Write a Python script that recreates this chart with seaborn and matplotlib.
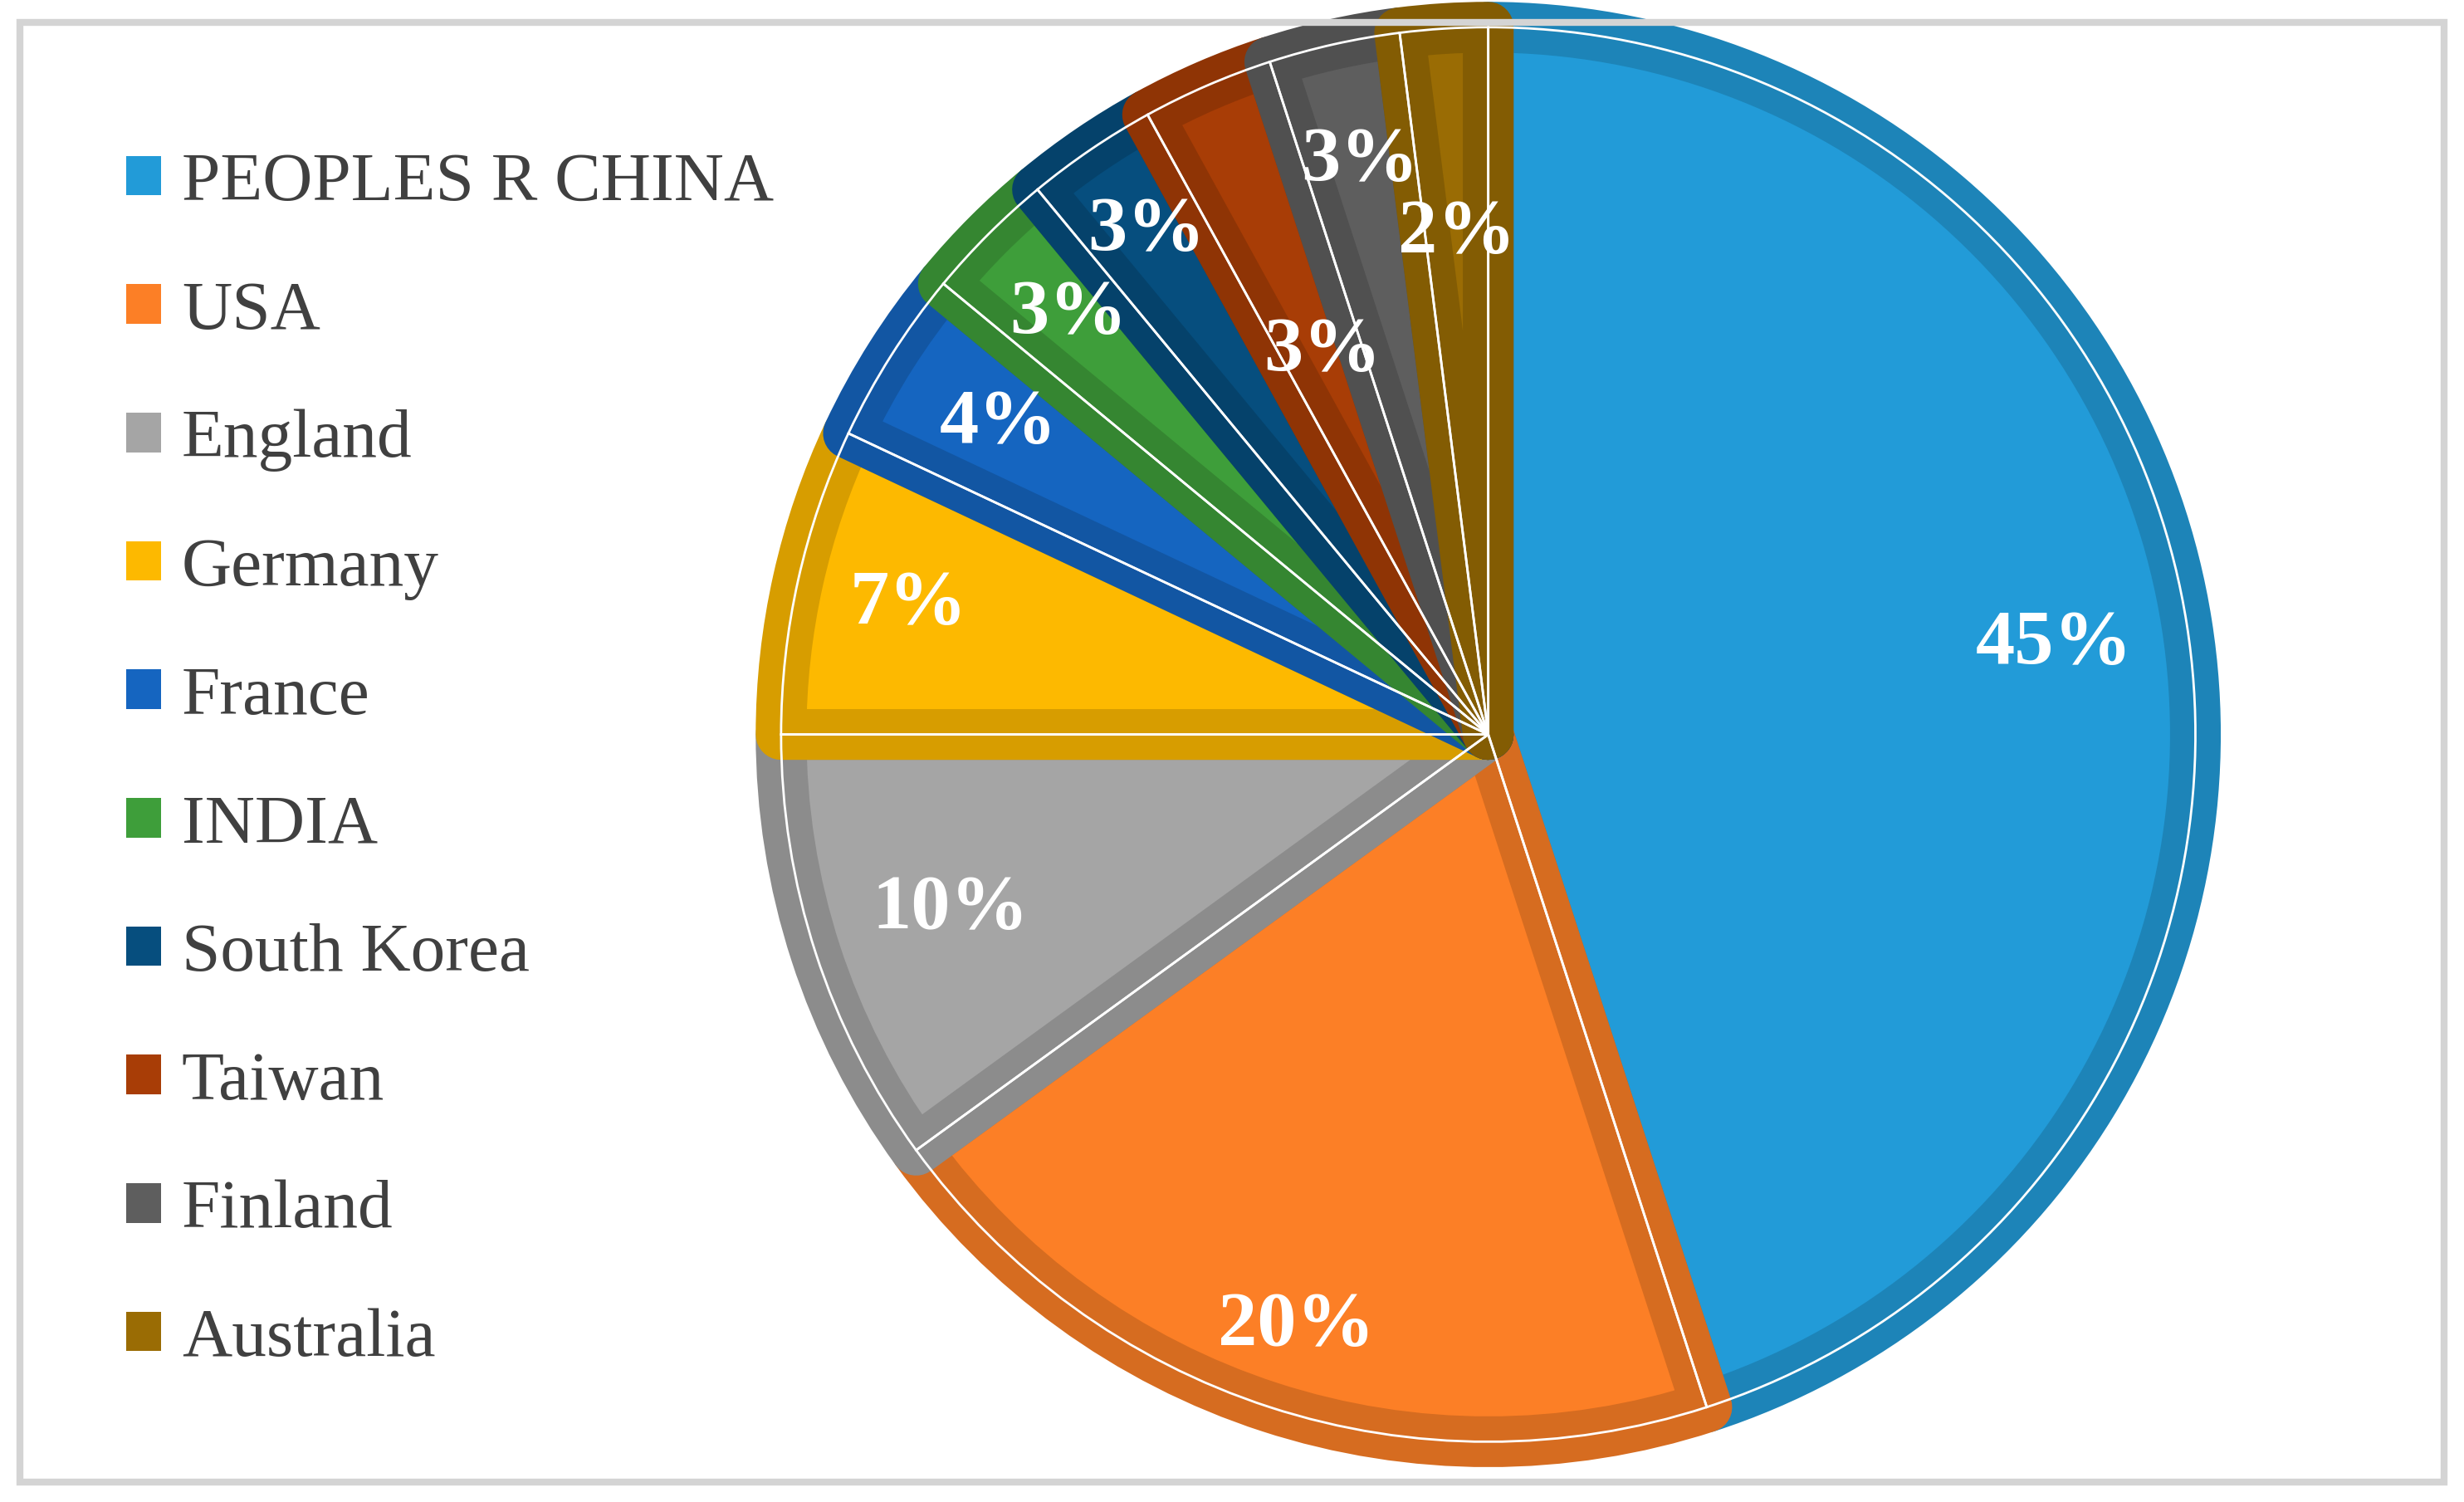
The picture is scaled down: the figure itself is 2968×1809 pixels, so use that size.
import matplotlib
matplotlib.use('Agg')
import numpy as np
import matplotlib.pyplot as plt
import matplotlib.colors as mcolors
from matplotlib.patches import Rectangle
import seaborn as sns

countries = ['PEOPLES R CHINA', 'USA', 'England', 'Germany', 'France', 'INDIA',
             'South Korea', 'Taiwan', 'Finland', 'Australia']
shares = [45, 20, 10, 7, 4, 3, 3, 3, 3, 2]
colors = ['#229bd8', '#fc7f26', '#a5a5a5', '#fdb900', '#1565c0', '#3e9e3a',
          '#064e7e', '#a83d06', '#5e5e5e', '#9a6c04']
# radial position of each percentage label (fraction of radius)
label_dist = [0.81, 0.88, 0.80, 0.84, 0.82, 0.84, 0.86, 0.59, 0.83, 0.71]

sns.set_theme(style='white')
plt.rcParams['font.family'] = ['Liberation Serif', 'DejaVu Serif']

fig = plt.figure(figsize=(14.84, 9.045), dpi=200)
fig.patches.append(Rectangle((0.008, 0.013), 0.984, 0.972, transform=fig.transFigure,
                             fill=False, edgecolor='#d4d4d4', linewidth=3))
ax = fig.add_axes([0.317, 0.04, 0.574, 0.942])

def darker(c, f=0.85):
    r, g, b = mcolors.to_rgb(c)
    return (r * f, g * f, b * f)

wedges, texts, autotexts = ax.pie(
    shares, colors=colors, startangle=90, counterclock=False,
    autopct='%d%%', pctdistance=0.82,
    textprops=dict(color='white', fontsize=34, fontweight='bold'))

for w, c in zip(wedges, colors):
    w.set_edgecolor(darker(c))
    w.set_linewidth(22)
    w.set_joinstyle('round')
    w.set_clip_path(w.get_path(), w.get_transform())

for w, t, d in zip(wedges, autotexts, label_dist):
    ang = np.deg2rad((w.theta1 + w.theta2) / 2)
    t.set_position((d * np.cos(ang), d * np.sin(ang)))

ax.pie(shares, colors=['none'] * len(shares), startangle=90, counterclock=False,
       wedgeprops=dict(edgecolor='white', linewidth=1.0))
ax.set_xlim(-1.0, 1.0)
ax.set_ylim(-1.0, 1.0)
ax.set_aspect('equal')

leg = fig.legend(wedges, countries, loc='upper left', bbox_to_anchor=(0.026, 0.94),
                 frameon=False, fontsize=30, handlelength=0.5, handleheight=0.5,
                 handletextpad=0.3, labelspacing=0.95)
for t in leg.get_texts():
    t.set_color('#404040')
for h in leg.legend_handles:
    h.set_edgecolor('none')
    h.set_linewidth(0)

fig.savefig('out.png', dpi=200, facecolor='white')
